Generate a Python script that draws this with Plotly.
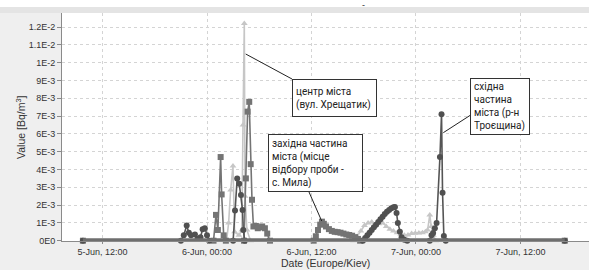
import plotly.graph_objects as go
from datetime import datetime, timedelta

# ---------------- data ----------------
centre_t = ["2020-06-05 09:45", "2020-06-06 02:15", "2020-06-06 02:29", "2020-06-06 02:43",
            "2020-06-06 02:59", "2020-06-06 03:10", "2020-06-06 03:40", "2020-06-06 04:00",
            "2020-06-06 04:08", "2020-06-06 04:17", "2020-06-06 04:22", "2020-06-06 04:35",
            "2020-06-06 05:00", "2020-06-06 16:50", "2020-06-06 17:15", "2020-06-06 17:40",
            "2020-06-06 18:05", "2020-06-06 18:30", "2020-06-06 18:55", "2020-06-06 19:20",
            "2020-06-06 19:45", "2020-06-06 20:10", "2020-06-06 20:35", "2020-06-06 21:00",
            "2020-06-06 21:25", "2020-06-06 21:50", "2020-06-06 22:15", "2020-06-06 22:40",
            "2020-06-06 23:05", "2020-06-06 23:30", "2020-06-06 23:55", "2020-06-07 00:20",
            "2020-06-07 00:45", "2020-06-07 01:05", "2020-06-07 01:20", "2020-06-07 01:35",
            "2020-06-07 01:45", "2020-06-07 02:00", "2020-06-07 02:15", "2020-06-07 17:05"]
centre_v = [0, 0, 1.0e-3, 2.85e-3,
            4.2e-3, 0.5e-3, 0.3e-3, 0.6e-3,
            6.5e-3, 12.2e-3, 2.5e-3, 0.6e-3,
            0, 0, 0.25e-3, 0.55e-3,
            0.85e-3, 1.0e-3, 1.05e-3, 0.85e-3,
            0.95e-3, 1.0e-3, 0.8e-3, 0.65e-3,
            0.55e-3, 0.45e-3, 0.35e-3, 0.3e-3,
            0.32e-3, 0.4e-3, 0.42e-3, 0.43e-3,
            0.45e-3, 0.5e-3, 0.6e-3, 1.45e-3,
            0.8e-3, 0.3e-3, 0, 0]

mila_t = ["2020-06-05 09:45", "2020-06-06 00:45", "2020-06-06 01:02", "2020-06-06 01:15",
          "2020-06-06 01:34", "2020-06-06 01:41", "2020-06-06 01:55", "2020-06-06 02:10",
          "2020-06-06 04:15", "2020-06-06 04:28", "2020-06-06 04:40", "2020-06-06 04:51",
          "2020-06-06 05:01", "2020-06-06 05:10", "2020-06-06 05:20", "2020-06-06 05:37",
          "2020-06-06 05:50", "2020-06-06 06:05", "2020-06-06 06:20", "2020-06-06 06:39",
          "2020-06-06 06:55", "2020-06-06 07:14", "2020-06-06 12:15", "2020-06-06 12:30",
          "2020-06-06 12:45", "2020-06-06 13:00", "2020-06-06 13:12", "2020-06-06 13:25",
          "2020-06-06 13:40", "2020-06-06 14:00", "2020-06-06 14:20", "2020-06-06 14:40",
          "2020-06-06 15:00", "2020-06-06 15:20", "2020-06-06 15:40", "2020-06-06 16:00",
          "2020-06-06 16:20", "2020-06-06 16:40", "2020-06-06 17:00", "2020-06-06 17:20",
          "2020-06-06 17:35", "2020-06-07 17:05"]
mila_v = [0, 0, 1.45e-3, 0.6e-3,
          4.7e-3, 2.6e-3, 0.3e-3, 0,
          0, 3.5e-3, 7.25e-3, 7.8e-3,
          4.3e-3, 2.3e-3, 0.8e-3, 0.83e-3,
          0.7e-3, 0.75e-3, 0.8e-3, 0.7e-3,
          0.4e-3, 0, 0, 0.25e-3,
          0.6e-3, 0.9e-3, 1.07e-3, 0.95e-3,
          0.8e-3, 0.65e-3, 0.55e-3, 0.5e-3,
          0.48e-3, 0.45e-3, 0.4e-3, 0.35e-3,
          0.32e-3, 0.28e-3, 0.2e-3, 0.1e-3,
          0, 0]

east_t = ["2020-06-05 09:45", "2020-06-05 21:00", "2020-06-05 21:20", "2020-06-05 21:40",
          "2020-06-05 21:55", "2020-06-05 22:10", "2020-06-05 22:37", "2020-06-05 22:55",
          "2020-06-05 23:15", "2020-06-05 23:30", "2020-06-05 23:45", "2020-06-06 00:00",
          "2020-06-06 00:15", "2020-06-06 03:00", "2020-06-06 03:13", "2020-06-06 03:28",
          "2020-06-06 03:42", "2020-06-06 03:54", "2020-06-06 04:05", "2020-06-06 04:10",
          "2020-06-06 04:20", "2020-06-06 17:54", "2020-06-06 18:10", "2020-06-06 18:25",
          "2020-06-06 18:40", "2020-06-06 18:55", "2020-06-06 19:10", "2020-06-06 19:25",
          "2020-06-06 19:40", "2020-06-06 19:55", "2020-06-06 20:10", "2020-06-06 20:25",
          "2020-06-06 20:40", "2020-06-06 20:55", "2020-06-06 21:10", "2020-06-06 21:25",
          "2020-06-06 21:35", "2020-06-06 21:46", "2020-06-06 21:55", "2020-06-06 22:09",
          "2020-06-06 22:21", "2020-06-06 22:40", "2020-06-06 23:00", "2020-06-07 01:35",
          "2020-06-07 01:47", "2020-06-07 01:58", "2020-06-07 02:10", "2020-06-07 02:22",
          "2020-06-07 02:45", "2020-06-07 02:56", "2020-06-07 03:03", "2020-06-07 03:12",
          "2020-06-07 03:25", "2020-06-07 17:05"]
east_v = [0, 0, 0.3e-3, 0.85e-3,
          0.45e-3, 0.3e-3, 0.35e-3, 0.1e-3,
          0.2e-3, 0.65e-3, 0.7e-3, 0.3e-3,
          0, 0, 1.7e-3, 3.5e-3,
          3.2e-3, 2.57e-3, 1.72e-3, 0.6e-3,
          0, 0, 0.15e-3, 0.3e-3,
          0.45e-3, 0.6e-3, 0.75e-3, 0.9e-3,
          1.05e-3, 1.2e-3, 1.35e-3, 1.5e-3,
          1.62e-3, 1.72e-3, 1.82e-3, 1.88e-3,
          1.9e-3, 1.55e-3, 1.0e-3, 0.5e-3,
          0.2e-3, 0.05e-3, 0, 0,
          0.3e-3, 0.43e-3, 0.7e-3, 1.0e-3,
          4.7e-3, 7.1e-3, 2.7e-3, 0.26e-3,
          0, 0]

tick_vals = ["2020-06-05 12:00", "2020-06-06 00:00", "2020-06-06 12:00",
             "2020-06-07 00:00", "2020-06-07 12:00"]
tick_text = ["5-Jun, 12:00", "6-Jun, 00:00", "6-Jun, 12:00", "7-Jun, 00:00", "7-Jun, 12:00"]
y_tick_vals = [0, 1e-3, 2e-3, 3e-3, 4e-3, 5e-3, 6e-3, 7e-3, 8e-3, 9e-3, 10e-3, 11e-3, 12e-3]
y_tick_text = ["0E0", "1E-3", "2E-3", "3E-3", "4E-3", "5E-3", "6E-3", "7E-3", "8E-3",
               "9E-3", "1E-2", "1.1E-2", "1.2E-2"]

x_title = "Date (Europe/Kiev)"
y_title = "Value [Bq/m<sup>3</sup>]"
label_centre = "центр міста<br>(вул. Хрещатик)"
label_west = "західна частина<br>міста (місце<br>відбору проби -<br>с. Мила)"
label_east = "східна<br>частина<br>міста (р-н<br>Троєщина)"

# ---------------- layout geometry helpers ----------------
W, H = 589, 270
L, R, T, B = 62, 0, 13, 29
PW, PH = W - L - R, H - T - B
BASE = datetime(2020, 6, 5, 12, 0)
PX_PER_H = 8.708
X0 = 102.5   # pixel of 5-Jun 12:00
Y0 = 240.7   # pixel of zero
PX_PER_UNIT = 17.8e3


def t_at(px):
    return BASE + timedelta(hours=(px - X0) / PX_PER_H)


def v_at(py):
    return (Y0 - py) / PX_PER_UNIT


def xp(px):
    return (px - L) / PW


def yp(py):
    return (H - B - py) / PH


fig = go.Figure()

fig.add_trace(go.Scatter(x=centre_t, y=centre_v, mode="lines+markers", name="центр",
                         line=dict(color="#c6c6c6", width=1.6),
                         marker=dict(symbol="triangle-up", size=6, color="#c6c6c6"),
                         cliponaxis=False, showlegend=False))
fig.add_trace(go.Scatter(x=mila_t, y=mila_v, mode="lines+markers", name="Мила",
                         line=dict(color="#747474", width=1.6),
                         marker=dict(symbol="square", size=6, color="#747474"),
                         cliponaxis=False, showlegend=False))
fig.add_trace(go.Scatter(x=east_t, y=east_v, mode="lines+markers", name="Троєщина",
                         line=dict(color="#555555", width=1.6),
                         marker=dict(symbol="circle", size=6, color="#505050"),
                         cliponaxis=False, showlegend=False))

all_t = sorted(centre_t + mila_t + east_t)
fig.add_trace(go.Scatter(x=[all_t[0], all_t[-1]], y=[0, 0], mode="lines",
                         line=dict(color="#6e6e6e", width=5), cliponaxis=False,
                         hoverinfo="skip", showlegend=False))

grid = "#d4d4d4"
fig.update_xaxes(type="date", range=[t_at(L), t_at(W - R)], automargin=False,
                 tickvals=tick_vals, ticktext=tick_text,
                 showgrid=True, gridcolor=grid, griddash="dot", gridwidth=1,
                 showline=True, linecolor="#8a8a8a", linewidth=1,
                 ticks="outside", ticklen=2, tickcolor="#8a8a8a",
                 tickfont=dict(family="Liberation Sans, Arial", size=9, color="#333333"),
                 zeroline=False)
fig.update_yaxes(range=[v_at(H - B), v_at(T)], automargin=False,
                 tickvals=y_tick_vals, ticktext=y_tick_text,
                 showgrid=True, gridcolor=grid, griddash="dot", gridwidth=1,
                 showline=True, linecolor="#8a8a8a", linewidth=1,
                 ticks="outside", ticklen=4, tickcolor="#8a8a8a",
                 tickfont=dict(family="Liberation Sans, Arial", size=9, color="#333333"),
                 zeroline=False)

shapes = [
    dict(type="rect", xref="paper", yref="paper", x0=-0.2, x1=1.1, y0=yp(7), y1=yp(-5),
         fillcolor="white", line=dict(width=0), layer="below"),
    dict(type="rect", xref="paper", yref="paper", x0=-0.2, x1=1.1, y0=yp(13), y1=yp(7),
         fillcolor="#e4e4e4", line=dict(width=0), layer="below"),
    dict(type="line", xref="paper", yref="paper", x0=xp(245.7), y0=yp(54), x1=xp(292), y1=yp(79),
         line=dict(color="#222222", width=1)),
    dict(type="line", xref="paper", yref="paper", x0=xp(309), y0=yp(192), x1=xp(321.7), y1=yp(221),
         line=dict(color="#222222", width=1)),
    dict(type="line", xref="paper", yref="paper", x0=xp(443.3), y0=yp(132.7), x1=xp(470.7), y1=yp(115),
         line=dict(color="#222222", width=1)),
]

box_font = dict(family="Roboto, Arial", size=10, color="#222222")
title_font = dict(family="Liberation Sans, Arial", size=10.5, color="#333333")


def callout(text, left, top, w, h):
    return dict(text=text, xref="paper", yref="paper", x=xp(left), y=yp(top),
                xanchor="left", yanchor="top", showarrow=False, align="left",
                width=w - 8, height=h - 8, borderpad=3, bordercolor="#333333",
                borderwidth=1, bgcolor="white", font=box_font, valign="middle")


annotations = [
    callout(label_centre, 292, 79, 85, 38),
    callout(label_west, 268, 134, 95, 58),
    callout(label_east, 470, 78, 60, 57),
    dict(text=x_title, xref="paper", yref="paper", x=xp(325), y=yp(263), showarrow=False,
         xanchor="center", yanchor="middle", font=title_font),
    dict(text=y_title, xref="paper", yref="paper", x=xp(20), y=yp(127), showarrow=False,
         xanchor="center", yanchor="middle", textangle=-90, font=title_font),
    dict(text="-", xref="paper", yref="paper", x=xp(363), y=yp(5), showarrow=False,
         xanchor="center", yanchor="middle",
         font=dict(family="Liberation Sans, Arial", size=9, color="#333333")),
]

fig.update_layout(width=W, height=H, margin=dict(l=L, r=R, t=T, b=B, autoexpand=False),
                  paper_bgcolor="#efefef", plot_bgcolor="white",
                  shapes=shapes, annotations=annotations, showlegend=False)

fig.write_html("out.html", config={"displayModeBar": False},
               post_script="document.body.style.margin='0';document.body.style.padding='0';")
